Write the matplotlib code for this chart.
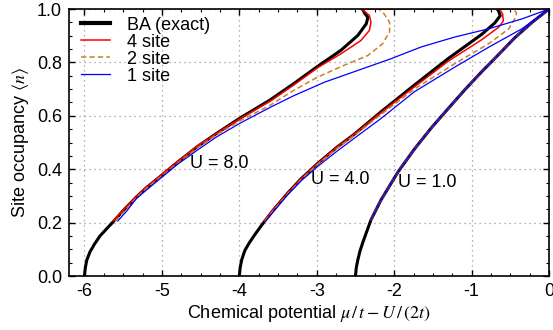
import matplotlib
matplotlib.use('Agg')

import matplotlib.pyplot as plt
from matplotlib.ticker import MultipleLocator, FormatStrFormatter

plt.rcParams['font.family'] = ['Liberation Sans', 'DejaVu Sans']
plt.rcParams['mathtext.fontset'] = 'stix'
plt.rcParams['axes.unicode_minus'] = False

# U = 8.0
ba8_x = [-6.0, -5.99, -5.97, -5.93, -5.87, -5.80, -5.72, -5.63, -5.5, -5.33, -5.2, -5.0, -4.8, -4.55, -4.3, -4.0,
         -3.6, -3.3, -2.99, -2.69, -2.47, -2.36, -2.34, -2.38, -2.41]
ba8_y = [0.0, 0.03, 0.06, 0.09, 0.12, 0.15, 0.175, 0.203, 0.245, 0.296, 0.331, 0.378, 0.426, 0.483, 0.533, 0.59,
         0.66, 0.72, 0.785, 0.845, 0.901, 0.945, 0.969, 0.984, 1.0]
s4_8_x = [-5.63, -5.5, -5.33, -5.2, -5.0, -4.8, -4.55, -4.3, -4.0, -3.6, -3.3, -2.99, -2.69, -2.43, -2.32, -2.30,
          -2.32, -2.36, -2.43, 0.0]
s4_8_y = [0.206, 0.247, 0.298, 0.333, 0.38, 0.428, 0.485, 0.533, 0.588, 0.655, 0.715, 0.78, 0.832, 0.882, 0.92, 0.951,
          0.976, 0.986, 1.0, 1.0]
s2_8_x = [-5.60, -5.47, -5.33, -5.2, -5.0, -4.8, -4.55, -4.3, -4.0, -3.6, -3.3, -2.99, -2.65, -2.34, -2.15, -2.06,
          -2.06, -2.13, -2.20, 0.0]
s2_8_y = [0.206, 0.247, 0.294, 0.328, 0.375, 0.422, 0.478, 0.528, 0.58, 0.64, 0.695, 0.745, 0.789, 0.826, 0.87, 0.914,
          0.951, 0.982, 1.0, 1.0]
s1_8_x = [-5.57, -5.45, -5.33, -5.2, -5.0, -4.8, -4.55, -4.3, -4.0, -3.6, -3.3, -2.9, -2.47, -2.04, -1.65, -1.22,
          -0.78, -0.35, 0.0]
s1_8_y = [0.206, 0.245, 0.29, 0.322, 0.37, 0.418, 0.47, 0.52, 0.571, 0.632, 0.675, 0.726, 0.77, 0.814, 0.858, 0.895,
          0.926, 0.963, 1.0]

# U = 4.0
ba4_x = [-4.0, -3.99, -3.97, -3.93, -3.87, -3.80, -3.73, -3.68, -3.55, -3.38, -3.2, -2.99, -2.75, -2.52, -2.17,
         -1.74, -1.30, -0.87, -0.70, -0.63, -0.65, -0.67]
ba4_y = [0.0, 0.03, 0.06, 0.095, 0.125, 0.155, 0.183, 0.203, 0.251, 0.309, 0.365, 0.421, 0.48, 0.53, 0.615,
         0.715, 0.815, 0.905, 0.948, 0.975, 0.992, 1.0]
s4_4_x = [-3.68, -3.55, -3.38, -3.2, -2.99, -2.75, -2.52, -2.17, -1.74, -1.30, -0.87, -0.65, -0.59, -0.60, -0.64, 0.0]
s4_4_y = [0.206, 0.253, 0.309, 0.365, 0.421, 0.48, 0.53, 0.612, 0.708, 0.805, 0.885, 0.932, 0.955, 0.982, 1.0, 1.0]
s2_4_x = [-3.67, -3.54, -3.38, -3.2, -2.99, -2.75, -2.52, -2.17, -1.74, -1.22, -0.78, -0.52, -0.43, -0.42, -0.46, 0.0]
s2_4_y = [0.206, 0.252, 0.307, 0.362, 0.418, 0.475, 0.525, 0.605, 0.70, 0.795, 0.87, 0.926, 0.97, 0.985, 1.0, 1.0]
s1_4_x = [-3.66, -3.53, -3.38, -3.2, -2.99, -2.75, -2.52, -2.17, -1.74, -1.22, -0.78, -0.35, 0.0]
s1_4_y = [0.206, 0.251, 0.303, 0.357, 0.41, 0.465, 0.515, 0.59, 0.69, 0.782, 0.857, 0.926, 1.0]

# U = 1.0
ba1_x = [-2.5, -2.49, -2.47, -2.44, -2.40, -2.35, -2.30, -2.17, -1.95, -1.74, -1.52, -1.30, -1.08, -0.87, -0.65,
         -0.44, -0.22, 0.0]
ba1_y = [0.0, 0.03, 0.06, 0.095, 0.13, 0.17, 0.21, 0.285, 0.39, 0.475, 0.555, 0.628, 0.70, 0.765, 0.83,
         0.893, 0.95, 1.0]
cl1_x = [-2.30, -2.17, -1.95, -1.74, -1.52, -1.30, -1.08, -0.87, -0.65, -0.44, -0.22, 0.0]
cl1_y = [0.21, 0.285, 0.39, 0.475, 0.555, 0.628, 0.70, 0.765, 0.83, 0.893, 0.95, 1.0]

labels = ['U = 8.0', 'U = 4.0', 'U = 1.0']
label_x = [-4.64, -3.08, -1.95]
label_y = [0.422, 0.363, 0.35]

fig = plt.figure(figsize=(5.53, 3.30), dpi=100)
ax = fig.add_axes([0.1248, 0.1636, 0.868, 0.809])

orange = '#c8802e'
dash = (0, (3.5, 2))

# BA (exact)
ax.plot(ba8_x, ba8_y, color='k', lw=2.2, label='BA (exact)')
ax.plot(ba4_x, ba4_y, color='k', lw=2.2)
ax.plot(ba1_x, ba1_y, color='k', lw=2.2)

# 4 site
ax.plot(s4_8_x, s4_8_y, color='red', lw=1.1, label='4 site')
ax.plot(s4_4_x, s4_4_y, color='red', lw=1.1)
ax.plot(cl1_x, cl1_y, color='red', lw=1.1)

# 2 site
ax.plot(s2_8_x, s2_8_y, color=orange, lw=1.1, ls=dash, label='2 site')
ax.plot(s2_4_x, s2_4_y, color=orange, lw=1.1, ls=dash)
ax.plot(cl1_x, cl1_y, color=orange, lw=1.1, ls=dash)

# 1 site
ax.plot(s1_8_x, s1_8_y, color='blue', lw=0.9, label='1 site')
ax.plot(s1_4_x, s1_4_y, color='blue', lw=0.9)
ax.plot(cl1_x, cl1_y, color='blue', lw=0.9)

for s, lx, ly in zip(labels, label_x, label_y):
    ax.text(lx, ly, s, fontsize=13, ha='left', va='center')

ax.set_xlim(-6.2, 0)
ax.set_ylim(0, 1)
ax.xaxis.set_major_locator(MultipleLocator(1))
ax.xaxis.set_minor_locator(MultipleLocator(0.25))
ax.yaxis.set_major_locator(MultipleLocator(0.2))
ax.yaxis.set_minor_locator(MultipleLocator(0.05))
ax.yaxis.set_major_formatter(FormatStrFormatter('%.1f'))

ax.tick_params(which='both', direction='in', top=True, right=True, labelsize=13)
ax.tick_params(which='major', length=4.5, width=1.0, pad=5)
ax.tick_params(which='minor', length=2.5, width=0.8)
for sp in ax.spines.values():
    sp.set_linewidth(1.2)

ax.grid(True, which='major', color='#999999', lw=0.9, ls=(0, (1, 3)))

ax.set_xlabel(r'Chemical potential $\mu\,/\,t - U\,/\,(2t)$', fontsize=13, labelpad=2)
ax.set_ylabel(r'Site occupancy $\langle n\rangle$', fontsize=13, labelpad=4)

leg = ax.legend(loc='upper left', bbox_to_anchor=(0.018, 0.985), frameon=False,
                fontsize=13, handlelength=1.6, handletextpad=0.95,
                labelspacing=0.0, borderaxespad=0, borderpad=0.2)
leg.get_lines()[0].set_linewidth(3)

fig.savefig('out.png', dpi=100)
